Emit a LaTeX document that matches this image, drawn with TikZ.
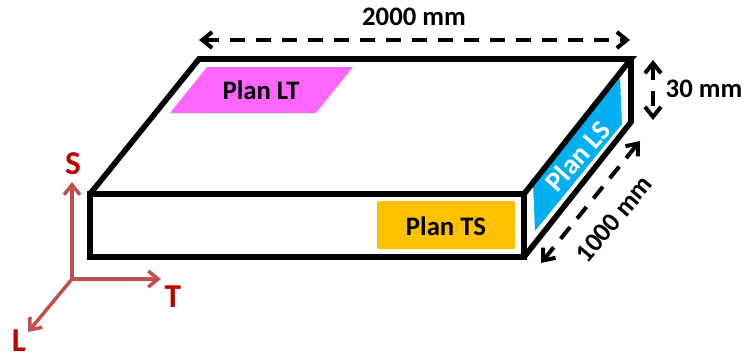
\documentclass[tikz,border=0pt]{standalone}
\usepackage{fontspec}
\setmainfont{Carlito}
\usetikzlibrary{arrows.meta}
\definecolor{planpink}{HTML}{FF66FF}
\definecolor{planblue}{HTML}{00B0F0}
\definecolor{planorange}{HTML}{FFC000}
\definecolor{axisred}{HTML}{C0504D}
\definecolor{axistext}{HTML}{C00000}
\tikzset{
	edge/.style={black,line width=0.112cm,line join=miter},
	dimline/.style={black,line width=0.08cm,dash pattern=on 0.3cm off 0.22cm,{Straight Barb[length=0.2cm,width=0.32cm,line width=0.08cm]}-{Straight Barb[length=0.2cm,width=0.32cm,line width=0.08cm]}},
	axisline/.style={axisred,line width=0.07cm,-{Straight Barb[length=0.2cm,width=0.32cm,line width=0.07cm]}},
	dimtext/.style={font=\bfseries\fontsize{15.2}{18}\selectfont,text=black,inner sep=0pt},
	axistxt/.style={font=\bfseries\fontsize{19}{22}\selectfont,text=axistext,inner sep=0pt},
	plantext/.style={font=\bfseries\fontsize{15.2}{18}\selectfont,inner sep=0pt}
}
\begin{document}
\begin{tikzpicture}[x=0.02cm,y=-0.02cm]
	\useasboundingbox (0,0) rectangle (744,355);
% plans
\fill[planpink,rounded corners=0.3pt] (207,67)--(353,67)--(316,113)--(170,113)--cycle;
\fill[planorange,rounded corners=0.6pt] (377,201) rectangle (515,249);
\fill[planblue,rounded corners=0.3pt] (533,182)--(620,78)--(622,124)--(535,231)--cycle;
\node[plantext] (LT) at (261,90) {Plan LT};
\node[plantext] (TS) at (446,226) {Plan TS};
\node[plantext,text=white,rotate=48,font=\bfseries\fontsize{16}{18}\selectfont] (LS) at (578,156) {Plan LS};
% box
\coordinate (a) at (90,194);
\coordinate (b) at (524,194);
\coordinate (c) at (524,257);
\coordinate (d) at (90,257);
\coordinate (e) at (199,59);
\coordinate (f) at (631,59);
\coordinate (g) at (631,122);
\draw[edge] (a)--(b)--(c)--(d)--cycle;
\draw[edge] (a)--(e)--(f)--(b);
\draw[edge] (f)--(g)--(c);
% dimensions
\coordinate (w1) at (199,40);
\coordinate (w2) at (630,40);
\coordinate (h1) at (653,60);
\coordinate (h2) at (653,120);
\coordinate (l1) at (541,263);
\coordinate (l2) at (640,141);
\draw[dimline] (w1)--(w2);
\draw[dimline] (h1)--(h2);
\draw[dimline] (l1)--(l2);
\node[dimtext] (W) at (414,17) {2000 mm};
\node[dimtext] (H) at (704,89) {30 mm};
\node[dimtext,rotate=50] (Lg) at (614,219) {1000 mm};
% axes
\coordinate (O) at (72,279);
\coordinate (As) at (72,182);
\coordinate (At) at (161,279);
\coordinate (Al) at (28,332);
\draw[axisline] (O)--(As);
\draw[axisline] (O)--(At);
\draw[axisline] (O)--(Al);
\node[axistxt] (S) at (73,164) {S};
\node[axistxt] (T) at (173,297) {T};
\node[axistxt] (L) at (19,341) {L};
\end{tikzpicture}
\end{document}
